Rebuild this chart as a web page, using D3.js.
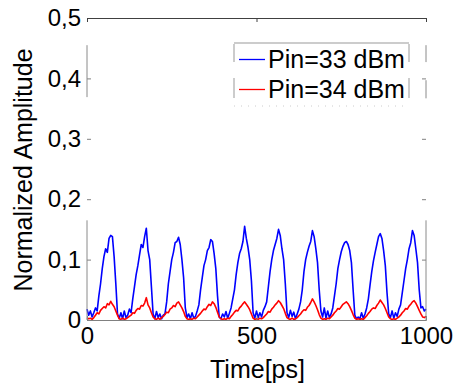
<!DOCTYPE html>
<html>
<head>
<meta charset="utf-8">
<script src="https://cdn.jsdelivr.net/npm/d3@7"></script>
<style>
  body { margin: 0; background: #fff; }
  svg { display: block; font-family: "Liberation Sans", Arial, sans-serif; }
</style>
</head>
<body>
<div id="chart"></div>
<script>
// time axis sampled every 5 ps
const timePs = d3.range(0, 1001, 5);

// Pin = 33 dBm (blue)
const pin33 = [
  0.018, 0.008, 0.015, 0.005, 0.012, 0.020, 0.015, 0.040, 0.060, 0.085, 0.105, 0.118, 0.112, 0.135, 0.140, 0.138, 0.105, 0.060, 0.010, 0.003, 0.012, 0.002, 0.015, 0.004, 0.008, 0.018,
  0.012, 0.035, 0.055, 0.075, 0.090, 0.108, 0.125, 0.120, 0.138, 0.152, 0.115, 0.100, 0.055, 0.010, 0.002, 0.014, 0.004, 0.010, 0.002, 0.008,
  0.010, 0.030, 0.060, 0.080, 0.100, 0.112, 0.128, 0.130, 0.137, 0.125, 0.100, 0.070, 0.020, 0.004, 0.010, 0.002, 0.012, 0.003, 0.006, 0.015,
  0.025, 0.050, 0.070, 0.090, 0.100, 0.115, 0.120, 0.133, 0.130, 0.110, 0.085, 0.040, 0.005, 0.002, 0.010, 0.005, 0.014, 0.003, 0.011, 0.020,
  0.035, 0.050, 0.075, 0.095, 0.110, 0.118, 0.130, 0.155, 0.135, 0.120, 0.100, 0.065, 0.012, 0.003, 0.015, 0.004, 0.012, 0.005, 0.016, 0.022,
  0.030, 0.055, 0.080, 0.100, 0.115, 0.125, 0.135, 0.150, 0.140, 0.118, 0.100, 0.060, 0.012, 0.004, 0.016, 0.006, 0.013, 0.002, 0.010, 0.018,
  0.030, 0.050, 0.080, 0.100, 0.112, 0.122, 0.130, 0.148, 0.138, 0.118, 0.095, 0.050, 0.015, 0.005, 0.020, 0.003, 0.015, 0.004, 0.010, 0.020,
  0.040, 0.060, 0.085, 0.100, 0.113, 0.122, 0.128, 0.130, 0.125, 0.115, 0.095, 0.050, 0.008, 0.002, 0.005, 0.002, 0.012, 0.003, 0.010, 0.020,
  0.035, 0.058, 0.080, 0.098, 0.112, 0.125, 0.138, 0.143, 0.135, 0.115, 0.090, 0.045, 0.010, 0.004, 0.015, 0.003, 0.012, 0.006, 0.018, 0.025,
  0.045, 0.065, 0.085, 0.100, 0.118, 0.128, 0.148, 0.140, 0.118, 0.095, 0.050, 0.020, 0.022, 0.015, 0.018
];

// Pin = 34 dBm (red)
const pin34 = [
  0.004, 0.002, 0.003, 0.001, 0.004, 0.008, 0.012, 0.010, 0.016, 0.019, 0.022, 0.020, 0.027, 0.025, 0.031, 0.026, 0.022, 0.015, 0.008, 0.002, 0.001, 0.003, 0.001, 0.002, 0.004, 0.006,
  0.008, 0.012, 0.011, 0.016, 0.019, 0.018, 0.024, 0.023, 0.028, 0.037, 0.025, 0.020, 0.012, 0.005, 0.002, 0.001, 0.003, 0.001, 0.004, 0.006,
  0.009, 0.013, 0.012, 0.018, 0.020, 0.024, 0.022, 0.028, 0.030, 0.025, 0.020, 0.014, 0.006, 0.002, 0.001, 0.002, 0.001, 0.003, 0.002, 0.005,
  0.008, 0.011, 0.015, 0.018, 0.017, 0.022, 0.026, 0.024, 0.030, 0.027, 0.021, 0.013, 0.005, 0.002, 0.001, 0.002, 0.001, 0.003, 0.002, 0.006,
  0.009, 0.013, 0.016, 0.015, 0.020, 0.023, 0.027, 0.030, 0.026, 0.022, 0.017, 0.010, 0.003, 0.001, 0.002, 0.001, 0.003, 0.002, 0.004, 0.007,
  0.010, 0.014, 0.013, 0.018, 0.021, 0.025, 0.028, 0.032, 0.029, 0.024, 0.019, 0.011, 0.004, 0.002, 0.001, 0.003, 0.001, 0.002, 0.004, 0.007,
  0.010, 0.014, 0.017, 0.016, 0.021, 0.024, 0.029, 0.035, 0.030, 0.024, 0.017, 0.009, 0.003, 0.001, 0.002, 0.001, 0.003, 0.002, 0.005, 0.008,
  0.012, 0.015, 0.019, 0.018, 0.022, 0.026, 0.028, 0.030, 0.027, 0.022, 0.016, 0.009, 0.003, 0.001, 0.002, 0.001, 0.002, 0.001, 0.004, 0.007,
  0.011, 0.014, 0.018, 0.020, 0.019, 0.024, 0.028, 0.033, 0.029, 0.025, 0.019, 0.012, 0.005, 0.002, 0.001, 0.002, 0.001, 0.003, 0.005, 0.008,
  0.012, 0.015, 0.019, 0.018, 0.023, 0.026, 0.030, 0.032, 0.028, 0.022, 0.016, 0.010, 0.005, 0.004, 0.006
];

const seriesNames = ["Pin=33 dBm", "Pin=34 dBm"];
const xTicks = [0, 500, 1000];
const yTicks = [0, 0.1, 0.2, 0.3, 0.4, 0.5];

const width = 454, height = 383;
const plotLeft = 87, plotRight = 426, plotTop = 18, plotBottom = 320;

const svg = d3.select("#chart").append("svg")
  .attr("width", width)
  .attr("height", height);

const x = d3.scaleLinear().domain([0, 1000]).range([plotLeft, plotRight]);
const y = d3.scaleLinear().domain([0, 0.5]).range([plotBottom, plotTop]);
const fmt = d => d3.format("")(d).replace(".", ",");

// lines
const line = d3.line().x((d, i) => x(timePs[i])).y(d => y(d));
const series = [pin33, pin34];
const colors = ["#0000ff", "#ff0000"];

series.forEach((s, k) => {
  svg.append("path")
    .datum(s)
    .attr("fill", "none")
    .attr("stroke", colors[k])
    .attr("stroke-width", 1.6)
    .attr("stroke-linejoin", "round")
    .attr("d", line);
});

// axes (inward ticks)
const yAxis = svg.append("g")
  .attr("transform", `translate(${plotLeft},0)`)
  .call(d3.axisLeft(y).tickValues(yTicks).tickFormat(fmt).tickSize(-4).tickPadding(6));
yAxis.select(".domain").remove();
yAxis.selectAll("line").attr("stroke", "#808080");
yAxis.selectAll("text").attr("font-size", 24).attr("fill", "#000")
  .attr("font-family", "Liberation Sans, Arial, sans-serif");

const yAxisR = svg.append("g")
  .attr("transform", `translate(${plotRight},0)`)
  .call(d3.axisRight(y).tickValues(yTicks).tickFormat("").tickSize(-4));
yAxisR.select(".domain").remove();
yAxisR.selectAll("line").attr("stroke", "#808080");

const xAxis = svg.append("g")
  .attr("transform", `translate(0,${plotBottom})`)
  .call(d3.axisBottom(x).tickValues(xTicks).tickFormat(d3.format("d")).tickSize(-4).tickPadding(7));
xAxis.select(".domain").attr("stroke", "#808080");
xAxis.selectAll("line").attr("stroke", "#808080");
xAxis.selectAll("text").attr("font-size", 24).attr("fill", "#000")
  .attr("font-family", "Liberation Sans, Arial, sans-serif");

const xAxisT = svg.append("g")
  .attr("transform", `translate(0,${plotTop})`)
  .call(d3.axisTop(x).tickValues(xTicks).tickFormat("").tickSize(-4));
xAxisT.select(".domain").attr("stroke", "#404040");
xAxisT.selectAll("line").attr("stroke", "#404040");

// partially visible side spines (faded in the original)
const leftSpine = [[0, 0.165], [0.369, 0.455]];
const rightSpine = [[0, 0.165], [0.367, 0.397], [0.427, 0.455]];
leftSpine.forEach(r => svg.append("line")
  .attr("x1", plotLeft).attr("x2", plotLeft).attr("y1", y(r[0])).attr("y2", y(r[1]))
  .attr("stroke", "#8a8a8a"));
rightSpine.forEach(r => svg.append("line")
  .attr("x1", plotRight).attr("x2", plotRight).attr("y1", y(r[0])).attr("y2", y(r[1]))
  .attr("stroke", "#8a8a8a"));

// axis titles
svg.append("text")
  .attr("x", x(500) + 1).attr("y", 378)
  .attr("text-anchor", "middle")
  .attr("font-size", 25)
  .text("Time[ps]");

svg.append("text")
  .attr("transform", `translate(32,${(plotTop + plotBottom) / 2 + 1}) rotate(-90)`)
  .attr("text-anchor", "middle")
  .attr("font-size", 25)
  .text("Normalized Amplitude");

// legend
const lg = svg.append("g");
const lgX0 = 234, lgX1 = 409, lgTop = 43, lgBot = 106;
lg.append("line").attr("x1", lgX0).attr("x2", lgX1).attr("y1", lgTop).attr("y2", lgTop).attr("stroke", "#999");
lg.append("line").attr("x1", lgX0).attr("x2", lgX1).attr("y1", lgBot).attr("y2", lgBot)
  .attr("stroke", "#ccc").attr("stroke-dasharray", "1,6");
[[44, 62], [78, 98]].forEach(r => {
  lg.append("line").attr("x1", lgX0).attr("x2", lgX0).attr("y1", r[0]).attr("y2", r[1]).attr("stroke", "#999");
  lg.append("line").attr("x1", lgX1).attr("x2", lgX1).attr("y1", r[0]).attr("y2", r[1]).attr("stroke", "#999");
});

seriesNames.forEach((name, k) => {
  const cy = 59.5 + k * 30;
  lg.append("line")
    .attr("x1", 239).attr("x2", 265).attr("y1", cy).attr("y2", cy)
    .attr("stroke", colors[k]).attr("stroke-width", 1.3);
  lg.append("text")
    .attr("x", 268).attr("y", cy + 8)
    .attr("font-size", 25)
    .text(name);
});
</script>
</body>
</html>
